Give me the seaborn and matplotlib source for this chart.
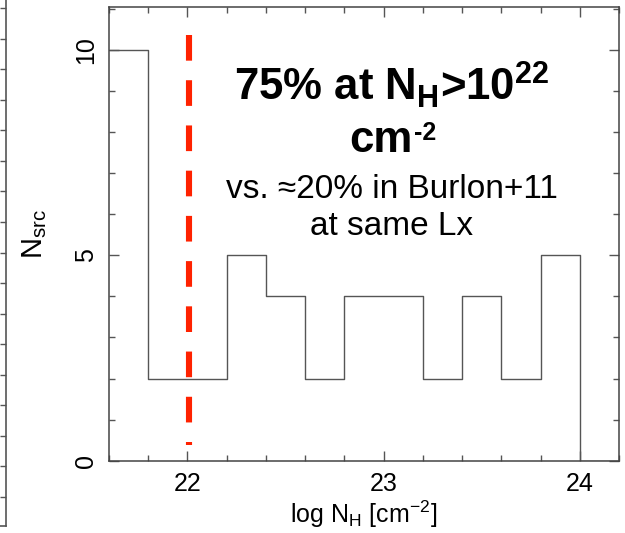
import numpy as np
import pandas as pd
import matplotlib
matplotlib.use("Agg")
import matplotlib.pyplot as plt
from matplotlib.ticker import MultipleLocator
import seaborn as sns

# ---- data ----
bin_edges = [21.6, 21.8, 22.0, 22.2, 22.4, 22.6, 22.8, 23.0, 23.2, 23.4, 23.6, 23.8, 24.0, 24.2]
bin_centers = [21.7, 21.9, 22.1, 22.3, 22.5, 22.7, 22.9, 23.1, 23.3, 23.5, 23.7, 23.9, 24.1]
n_src = [10, 2, 2, 5, 4, 2, 4, 4, 2, 4, 2, 5, 0]
threshold_logNH = 22.01
threshold_span = [10.35, 0.38]
x_ticks = [22, 23, 24]
y_ticks = [0, 5, 10]

df = pd.DataFrame({"logNH": bin_centers, "n": n_src})

sns.set_style("ticks")
plt.rcParams["font.family"] = ["Liberation Sans", "DejaVu Sans"]
plt.rcParams["mathtext.fontset"] = "custom"
plt.rcParams["mathtext.rm"] = "Liberation Sans"
plt.rcParams["mathtext.it"] = "Liberation Sans:italic"
plt.rcParams["mathtext.bf"] = "Liberation Sans:bold"
plt.rcParams["text.color"] = "black"
plt.rcParams["axes.labelcolor"] = "black"

W, H = 625, 533
fig = plt.figure(figsize=(W / 100, H / 100), dpi=100)

# cut-off neighbouring panel on the left edge
axl = fig.add_axes([-100 / W, 7 / H, 106 / W, 600 / H])
axl.set_xlim(0, 1)
axl.set_ylim(0, 600)
for s in ["left", "top"]:
    axl.spines[s].set_visible(False)
for s in ["right", "bottom"]:
    axl.spines[s].set_color("#555555")
    axl.spines[s].set_linewidth(1.2)
axl.yaxis.tick_right()
axl.set_yticks(np.arange(29, 600, 30.56))
axl.set_xticks([])
axl.tick_params(axis="y", direction="in", length=4.5, width=1, color="#555555",
                labelright=False, labelleft=False)

# main panel
ax = fig.add_axes([109 / W, (H - 460.7) / H, 510 / W, 454 / H])
sns.histplot(data=df, x="logNH", weights="n", bins=bin_edges, element="step",
             fill=False, color="#555555", linewidth=1.0, ax=ax)

ax.plot([threshold_logNH, threshold_logNH], threshold_span, color="#ff2200",
        linewidth=4.4, dashes=(4.2, 3.2), solid_capstyle="butt",
        dash_capstyle="butt")

ax.set_xlim(21.6, 24.2)
ax.set_ylim(0, 11.05)
ax.set_xticks(x_ticks)
ax.set_yticks(y_ticks)
ax.xaxis.set_minor_locator(MultipleLocator(0.2))
ax.yaxis.set_minor_locator(MultipleLocator(1))
ax.tick_params(which="both", direction="in", top=True, right=True,
               color="#555555", width=1, labelcolor="black")
ax.tick_params(which="major", length=7.5, labelsize=18, pad=8)
ax.tick_params(which="minor", length=4)
plt.setp(ax.get_yticklabels(), rotation=90, va="center")
for s in ax.spines.values():
    s.set_color("#444444")
    s.set_linewidth(1.1)

ax.set_xlabel(r"log N$_{\mathrm{H}}$ [cm$^{-2}$]", fontsize=18, labelpad=2)
ax.set_ylabel(r"N$_{\mathrm{src}}$", fontsize=21, labelpad=18)

xc = 0.555
ax.text(xc, 0.793, r"75% at N$_{\mathbf{H}}$>10$^{\mathbf{22}}$", transform=ax.transAxes,
        ha="center", va="baseline", fontsize=31.5, fontweight="bold")
ax.text(0.596, 0.680, "cm", transform=ax.transAxes,
        ha="right", va="baseline", fontsize=31.5, fontweight="bold")
ax.text(0.598, 0.706, "-2", transform=ax.transAxes,
        ha="left", va="baseline", fontsize=18, fontweight="bold")
ax.text(xc, 0.578, "vs. ≈20% in Burlon+11", transform=ax.transAxes,
        ha="center", va="baseline", fontsize=24)
ax.text(xc, 0.497, "at same Lx", transform=ax.transAxes,
        ha="center", va="baseline", fontsize=24)

fig.savefig("out.png", dpi=100)
